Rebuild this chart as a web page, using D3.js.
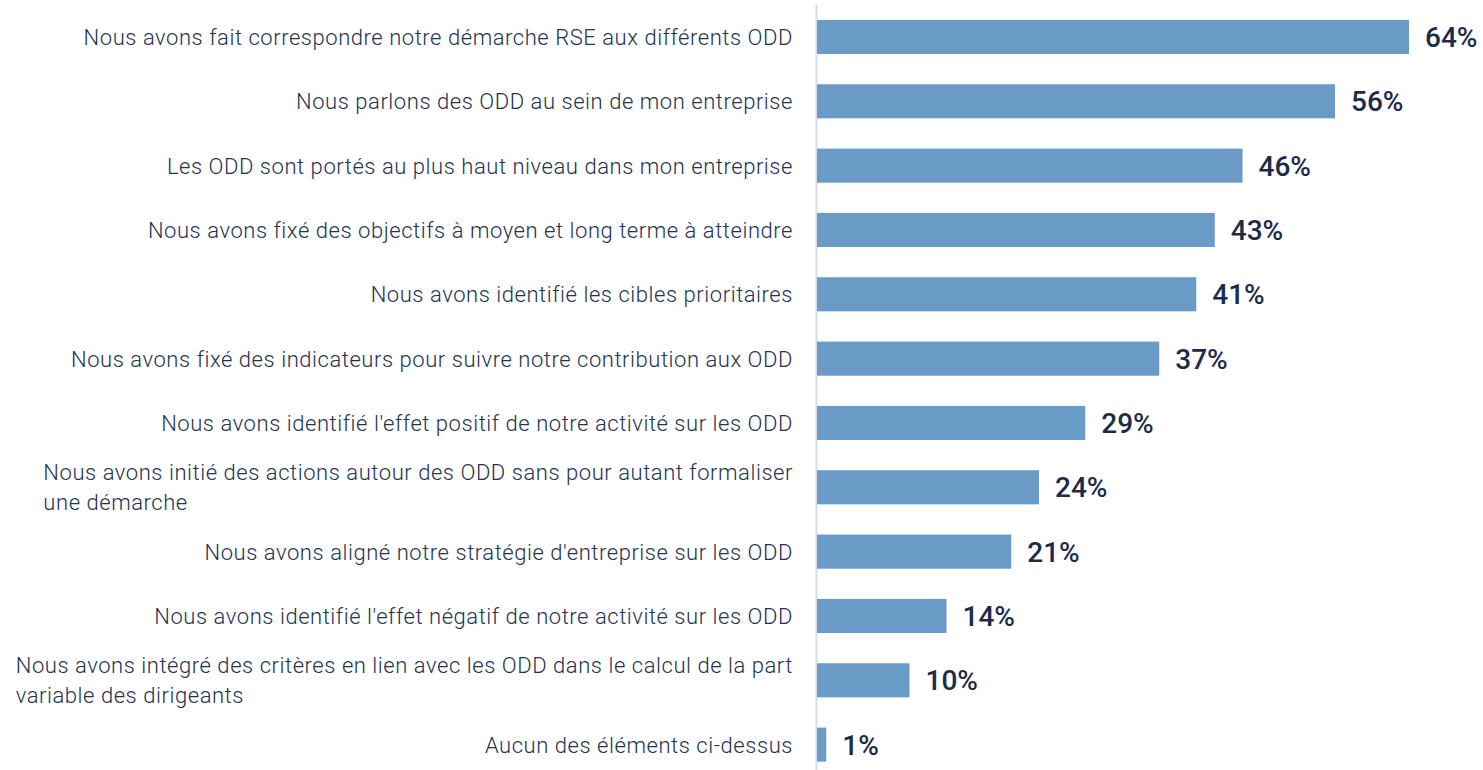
<!DOCTYPE html>
<html><head><meta charset="utf-8">
<script src="https://cdn.jsdelivr.net/npm/d3@7"></script>
<style>
html,body{margin:0;padding:0;background:#fff;}
svg{display:block;}
</style></head>
<body>
<svg id="chart" width="1483" height="770"></svg>
<script>
const categories = [
  ["Nous avons fait correspondre notre démarche RSE aux différents ODD"],
  ["Nous parlons des ODD au sein de mon entreprise"],
  ["Les ODD sont portés au plus haut niveau dans mon entreprise"],
  ["Nous avons fixé des objectifs à moyen et long terme à atteindre"],
  ["Nous avons identifié les cibles prioritaires"],
  ["Nous avons fixé des indicateurs pour suivre notre contribution aux ODD"],
  ["Nous avons identifié l'effet positif de notre activité sur les ODD"],
  ["Nous avons initié des actions autour des ODD sans pour autant formaliser", "une démarche"],
  ["Nous avons aligné notre stratégie d'entreprise sur les ODD"],
  ["Nous avons identifié l'effet négatif de notre activité sur les ODD"],
  ["Nous avons intégré des critères en lien avec les ODD dans le calcul de la part", "variable des dirigeants"],
  ["Aucun des éléments ci-dessus"]
];
const values = [64, 56, 46, 43, 41, 37, 29, 24, 21, 14, 10, 1];
const valueLabels = ["64%", "56%", "46%", "43%", "41%", "37%", "29%", "24%", "21%", "14%", "10%", "1%"];

const svg = d3.select("#chart");
const x0 = 817;
const x = d3.scaleLinear().domain([0, 64]).range([x0, 1409]);
const y = d3.scaleBand().domain(d3.range(categories.length)).range([4.8, 776.8]).paddingInner(0.47).paddingOuter(0.235);

const labelFont = "Roboto, sans-serif";

svg.append("line")
  .attr("x1", x0 - 0.5).attr("x2", x0 - 0.5)
  .attr("y1", 5).attr("y2", 770)
  .attr("stroke", "#d6dee9").attr("stroke-width", 2);

svg.selectAll("rect.bar").data(values).join("rect")
  .attr("class", "bar")
  .attr("x", x0)
  .attr("y", (d, i) => y(i))
  .attr("width", d => x(d) - x0)
  .attr("height", y.bandwidth())
  .attr("fill", "#6a9bc7");

svg.selectAll("text.val").data(values).join("text")
  .attr("class", "val")
  .attr("x", d => x(d) + 16)
  .attr("y", (d, i) => y(i) + y.bandwidth() / 2)
  .attr("dy", "0.36em")
  .attr("font-family", labelFont)
  .attr("font-weight", 500)
  .attr("font-size", 28)
  .attr("fill", "#1c2b4a")
  .text((d, i) => valueLabels[i]);

const lineH = 30;
const g = svg.selectAll("g.lab").data(categories).join("g").attr("class", "lab");
g.each(function(lines, i) {
  const sel = d3.select(this);
  const cy = y(i) + y.bandwidth() / 2;
  const n = lines.length;
  const texts = lines.map((t, k) => sel.append("text")
    .attr("y", cy + (k - (n - 1) / 2) * lineH)
    .attr("dy", "0.36em")
    .attr("font-family", labelFont)
    .attr("font-weight", 300)
    .attr("font-size", 22)
    .attr("letter-spacing", 0.55)
    .attr("fill", "#24324f")
    .text(t));
  const w = d3.max(texts, t => t.node().getComputedTextLength());
  texts.forEach(t => t.attr("x", 793 - w));
});
</script>
</body></html>
